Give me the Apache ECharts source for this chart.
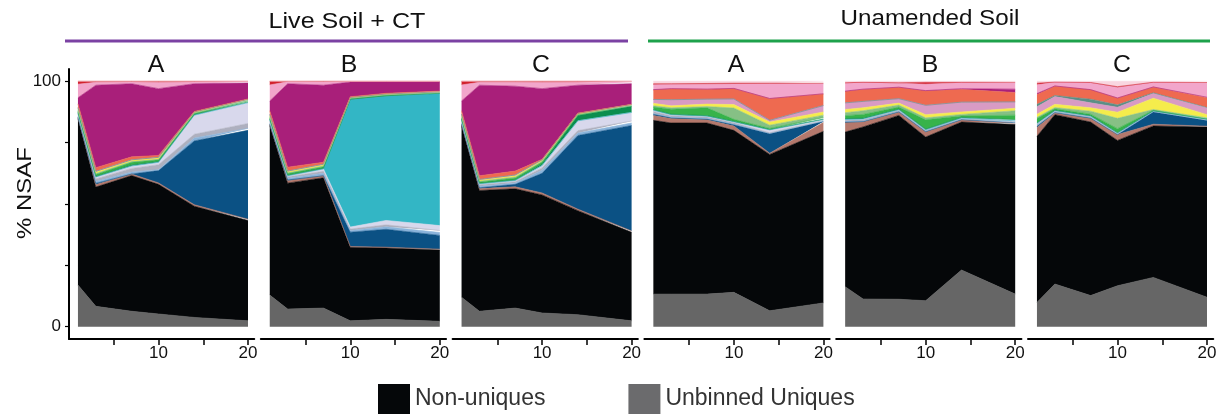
<!DOCTYPE html>
<html><head><meta charset="utf-8">
<script src="https://cdn.jsdelivr.net/npm/echarts@6/dist/echarts.min.js"></script>
<style>html,body{margin:0;padding:0;background:#fff}#chart{width:1220px;height:416px}</style>
</head><body><div id="chart"></div>
<script>
// ---------------- DATA ----------------
const days = [1, 3, 7, 10, 14, 20];
const panelLabels = ['A', 'B', 'C', 'A', 'B', 'C'];
const groupLabels = ['Live Soil + CT', 'Unamended Soil'];
const yTickValues = [0, 25, 50, 75, 100];
const yLabelValues = [0, 100];
const xTickValues = [5, 10, 15, 20];
const xLabelValues = [10, 20];
const yAxisTitle = '% NSAF';

// one row per panel: Live A, Live B, Live C, Unamended A, Unamended B, Unamended C
const unbinnedUniques = [
  [17, 8.3, 6.3, 5.2, 3.8, 2.4],
  [12.9, 7.2, 7.6, 2.4, 3, 2.2],
  [12, 6.3, 7.6, 5.6, 4.9, 2.4],
  [13.3, 13.3, 13.3, 14, 6.5, 9.7],
  [16.3, 11.3, 11.2, 10.6, 23.1, 13.3],
  [9.9, 17.4, 12.7, 16.7, 20.1, 12]
];
const nonUniques = [
  [67.8, 48.6, 55.3, 52.8, 45.3, 40.9],
  [69.1, 51.3, 53.1, 30, 29.1, 29.1],
  [70, 49.2, 48.6, 48.1, 42.4, 36.1],
  [70.8, 69.7, 69.7, 66, 63.7, 69.9],
  [63, 70.1, 74.9, 66.7, 60.3, 69.1],
  [67.7, 69, 70.7, 59.2, 61.7, 69.4]
];
const binBrown = [
  [0.5, 1, 0.6, 0.6, 0.6, 0.5],
  [0.5, 1, 0.8, 0.3, 0.3, 0.3],
  [0.5, 0.8, 0.8, 0.8, 0.6, 0.5],
  [2, 1.8, 1.3, 1.8, 0.5, 3.6],
  [3.8, 2, 1.3, 2, 0.8, 0.5],
  [3.6, 0.7, 1.4, 2.4, 0.7, 0.3]
];
const binDarkBlue = [
  [0, 0.5, 0, 5, 26, 36.2],
  [0, 0.3, 0, 5.8, 7.3, 5.6],
  [0, 0.3, 1, 8, 30, 43],
  [0.5, 0.3, 0.3, 0.5, 7.9, 0.4],
  [0.3, 0.2, 0.2, 0.2, 0.2, 0.2],
  [0.5, 0.2, 0.2, 0, 5, 2.3]
];
const binLightBlue = [
  [0.5, 0.8, 0.8, 0.4, 1.2, 0.8],
  [0.5, 0.7, 1, 0.7, 1, 1.2],
  [0.5, 0.6, 0.6, 1.2, 1, 1],
  [0.3, 0.3, 0.3, 0.3, 0.2, 0.2],
  [0.3, 0.2, 0.2, 0.2, 0.2, 0.3],
  [0.3, 0.2, 0.3, 0.2, 0.2, 0.2]
];
const binGray = [
  [0.8, 1, 1.5, 2, 1.5, 2],
  [0.8, 0.6, 0.8, 0.6, 0.8, 0.8],
  [0.8, 0.6, 0.5, 1, 1, 0.8],
  [0.8, 0.6, 0.5, 0.5, 0.2, 0.3],
  [0.4, 0.5, 0.4, 0.3, 0.2, 0.3],
  [0.5, 0.3, 0.3, 0.2, 0.1, 0.2]
];
const binLavender = [
  [0.5, 0.8, 1, 1, 7.8, 8.5],
  [0.5, 0.4, 1, 0.8, 1.8, 2],
  [0.5, 0.4, 0.5, 1, 4, 3.5],
  [0.5, 0.4, 0.4, 0.4, 1.2, 0.3],
  [0.3, 0.3, 0.2, 0.2, 0.2, 0.2],
  [0.3, 0.2, 0.2, 0.2, 0.1, 0.1]
];
const binCyan = [
  [0, 0, 0, 0, 0, 0],
  [0, 0, 0, 51.9, 50.6, 53.8],
  [0, 0, 0, 0, 0, 0],
  [0, 0, 0, 0, 0, 0],
  [0, 0, 0, 0, 0, 0],
  [0, 0, 0, 0, 0, 0]
];
const binDarkGreen = [
  [0.3, 0.3, 0.5, 0.4, 0.4, 0.3],
  [0.3, 0.3, 0.3, 0.2, 0.2, 0.1],
  [0.3, 0.3, 0.3, 0.7, 2.2, 2.5],
  [0.3, 0.2, 0.2, 0.2, 0.2, 0.2],
  [0.4, 0.4, 0.3, 0.3, 0.3, 0.5],
  [0.3, 0.2, 0.2, 0.2, 0.1, 0.1]
];
const binGreen = [
  [0.5, 0.7, 1, 0.6, 0.3, 0.4],
  [0.5, 0.6, 0.6, 0.2, 0.2, 0.2],
  [0.5, 0.5, 0.7, 0.7, 0.2, 0.2],
  [1, 2, 3.2, 0.8, 0.4, 0.6],
  [1.2, 1.5, 0.8, 3.8, 0.6, 1.8],
  [1.7, 0.6, 0.6, 1.6, 0.2, 0.2]
];
const binSage = [
  [0.5, 0.4, 0.3, 0.2, 0.2, 0.2],
  [0.5, 0.3, 0.3, 0.2, 0.2, 0.1],
  [0.5, 0.3, 0.4, 0.3, 0.1, 0.1],
  [0.5, 0.6, 0.5, 4.6, 1.3, 1],
  [1.2, 1.5, 0.8, 0.8, 0.6, 1.8],
  [0.5, 0.5, 1.2, 4.2, 0.3, 0.3]
];
const binYellow = [
  [0.4, 0.6, 0.5, 0.6, 0.4, 0.4],
  [0.4, 0.5, 0.5, 0.3, 0.3, 0.3],
  [0.5, 0.5, 0.5, 0.4, 0.5, 0.4],
  [1, 0.8, 1, 1.4, 1.3, 1.3],
  [1.3, 1.2, 0.8, 1.3, 1, 1],
  [1.3, 1.3, 1.4, 2.5, 4.6, 1.3]
];
const binMauve = [
  [0.5, 0.3, 0.2, 0.2, 0, 0],
  [0.5, 0.2, 0.2, 0, 0, 0],
  [0.5, 0.2, 0.3, 0.2, 0, 0],
  [1.6, 2.5, 2, 2.3, 0.7, 2.6],
  [2.7, 2.6, 1.8, 3.8, 4, 2.6],
  [3, 3.2, 2, 2, 2, 2.7]
];
const binTeal = [
  [0, 0, 0, 0, 0, 0],
  [0, 0, 0, 0, 0, 0],
  [0, 0, 0, 0, 0, 0],
  [0, 0, 0, 0, 0, 0],
  [0, 0, 0, 0, 0, 0],
  [1, 0.4, 1.5, 1, 0.2, 0.2]
];
const binOrange = [
  [1.5, 1.5, 1.2, 0.8, 0.2, 0.2],
  [1.5, 1.6, 0.8, 0.3, 0.3, 0.3],
  [1.4, 1.5, 1.6, 0.2, 0.1, 0.1],
  [3.8, 4.4, 4, 4.2, 8.8, 4.7],
  [4.6, 4.8, 4.6, 5.8, 5.2, 3.8],
  [4, 3.8, 3.8, 2.7, 2.3, 4]
];
const binMagenta = [
  [2.5, 33.6, 29.8, 27.2, 11.3, 6.5],
  [4, 34, 31.4, 6, 4.6, 3.8],
  [4, 36.9, 34.6, 28.8, 11.4, 8.4],
  [0.2, 0.1, 0.1, 0.1, 0.1, 0.1],
  [0.2, 0.2, 0.1, 0.2, 0.3, 1.4],
  [0.4, 0.1, 0.1, 0.1, 0.1, 0.2]
];
const binPink = [
  [5.5, 1.2, 0.7, 2.5, 0.7, 0.5],
  [6.5, 0.8, 1.3, 0.2, 0.2, 0.1],
  [6.5, 1.2, 1.6, 2.5, 1.2, 0.7],
  [2, 1.8, 2, 1.8, 6, 4.1],
  [3.2, 2.6, 1.6, 2.6, 2.4, 2.6],
  [3.6, 1.5, 2.8, 4.3, 1.8, 5.8]
];
const binRed = [
  [1.2, 0.4, 0.3, 0.5, 0.3, 0.2],
  [1.5, 0.2, 0.3, 0.1, 0.1, 0.1],
  [1.5, 0.4, 0.4, 0.5, 0.4, 0.3],
  [0.4, 0.2, 0.3, 0.3, 0.2, 0.2],
  [0.2, 0.2, 0.2, 0.8, 0.2, 0.2],
  [0.6, 0.1, 0.1, 0.3, 0.1, 0.2]
];
const binLightPink = [
  [0, 0, 0, 0, 0, 0],
  [0, 0, 0, 0, 0, 0],
  [0, 0, 0, 0, 0, 0],
  [1, 1, 0.9, 0.8, 0.8, 0.8],
  [0.6, 0.4, 0.6, 0.4, 0.4, 0.4],
  [0.8, 0.3, 0.5, 2.2, 0.4, 0.5]
];

// ---------------- STYLE / LAYOUT ----------------
const layers = [
  { name: 'Unbinned Uniques', values: unbinnedUniques, color: '#666666' },
  { name: 'Non-uniques', values: nonUniques, color: '#050709' },
  { name: 'Bin 1', values: binBrown, color: '#b4786c' },
  { name: 'Bin 2', values: binDarkBlue, color: '#0b5184' },
  { name: 'Bin 3', values: binLightBlue, color: '#8ab3da' },
  { name: 'Bin 4', values: binGray, color: '#aeb0bf' },
  { name: 'Bin 5', values: binLavender, color: '#d8d8ec' },
  { name: 'Bin 6', values: binCyan, color: '#33b6c5' },
  { name: 'Bin 7', values: binDarkGreen, color: '#0b8e4e' },
  { name: 'Bin 8', values: binGreen, color: '#37b34a' },
  { name: 'Bin 9', values: binSage, color: '#86c085' },
  { name: 'Bin 10', values: binYellow, color: '#f5ec4c' },
  { name: 'Bin 11', values: binMauve, color: '#d89bc4' },
  { name: 'Bin 12', values: binTeal, color: '#5a8f86' },
  { name: 'Bin 13', values: binOrange, color: '#ee6a50' },
  { name: 'Bin 14', values: binMagenta, color: '#a91f7a' },
  { name: 'Bin 15', values: binPink, color: '#f2a6cb' },
  { name: 'Bin 16', values: binRed, color: '#d2222d' },
  { name: 'Bin 17', values: binLightPink, color: '#f9d6e0' }
];

const FONT = '"Liberation Sans", Arial, Helvetica, sans-serif';
const PX_PER_DAY = 8.95;
const X_MIN = 0, X_MAX = 20.7;
const GRID_TOP = 69, GRID_H = 270;
const GRID_W = (X_MAX - X_MIN) * PX_PER_DAY;
const gridLeft = i => 69 + i * 191.8;
const titleX = [156, 349, 541, 736, 930, 1122];

const grids = [], xAxes = [], yAxes = [], series = [];
for (let p = 0; p < 6; p++) {
  grids.push({ left: gridLeft(p), top: GRID_TOP, width: GRID_W, height: GRID_H, containLabel: false });
  xAxes.push({
    type: 'value', gridIndex: p, min: X_MIN, max: X_MAX,
    axisLine: { show: true, onZero: false, lineStyle: { color: '#000', width: 2 } },
    axisTick: { show: true, customValues: xTickValues, length: 6, inside: false, lineStyle: { color: '#000', width: 1.5 } },
    axisLabel: { show: true, customValues: xLabelValues, fontSize: 17, fontFamily: FONT, color: '#111', margin: 6 },
    splitLine: { show: false }
  });
  yAxes.push({
    type: 'value', gridIndex: p, min: -5, max: 105, show: p === 0,
    axisLine: { show: true, lineStyle: { color: '#000', width: 2 } },
    axisTick: { show: true, customValues: yTickValues, length: 4, lineStyle: { color: '#000', width: 1.2 } },
    axisLabel: { show: true, customValues: yLabelValues, fontSize: 17, fontFamily: FONT, color: '#111', margin: 8 },
    splitLine: { show: false }
  });
  layers.forEach(layer => {
    series.push({
      type: 'line', name: layer.name, xAxisIndex: p, yAxisIndex: p, stack: 'panel' + p,
      data: days.map((d, k) => [layer.values[p][k], d]),
      encode: { x: 1, y: 0 },
      symbol: 'none', showSymbol: false, silent: true,
      color: layer.color, itemStyle: { color: layer.color },
      lineStyle: { width: 0.6, color: layer.color },
      areaStyle: { color: layer.color, opacity: 1 },
      emphasis: { disabled: true }
    });
  });
}

const graphic = [
  { type: 'text', x: 347, y: 22, scaleX: 1.14, style: { text: groupLabels[0], fontSize: 22, fontFamily: FONT, fill: '#111', align: 'center', verticalAlign: 'middle' } },
  { type: 'text', x: 930, y: 19, scaleX: 1.1, style: { text: groupLabels[1], fontSize: 22, fontFamily: FONT, fill: '#111', align: 'center', verticalAlign: 'middle' } },
  { type: 'line', shape: { x1: 65, y1: 41, x2: 628, y2: 41 }, style: { stroke: '#7b42a3', lineWidth: 3 } },
  { type: 'line', shape: { x1: 648, y1: 41, x2: 1210, y2: 41 }, style: { stroke: '#1ea24c', lineWidth: 3 } },
  { type: 'text', x: 25, y: 193, rotation: Math.PI / 2, scaleX: 1.14, style: { text: yAxisTitle, fontSize: 21, fontFamily: FONT, fill: '#111', align: 'center', verticalAlign: 'middle' } }
];
panelLabels.forEach((t, i) => {
  graphic.push({ type: 'text', x: titleX[i], y: 66, scaleX: 1.08, style: { text: t, fontSize: 23, fontFamily: FONT, fill: '#111', align: 'center', verticalAlign: 'middle' } });
});

const chart = echarts.init(document.getElementById('chart'), null, { renderer: 'canvas' });
chart.setOption({
  animation: false,
  backgroundColor: '#ffffff',
  grid: grids, xAxis: xAxes, yAxis: yAxes, series: series,
  legend: {
    left: 378, top: 384, padding: 0, orient: 'horizontal',
    itemWidth: 32, itemHeight: 30, itemGap: 83,
    icon: 'rect', selectedMode: false,
    textStyle: { fontSize: 23, fontFamily: FONT, color: '#333' },
    data: [
      { name: 'Non-uniques', icon: 'rect', itemStyle: { color: '#050709' } },
      { name: 'Unbinned Uniques', icon: 'rect', itemStyle: { color: '#6b6b6d' } }
    ]
  },
  graphic: graphic
});
</script></body></html>
